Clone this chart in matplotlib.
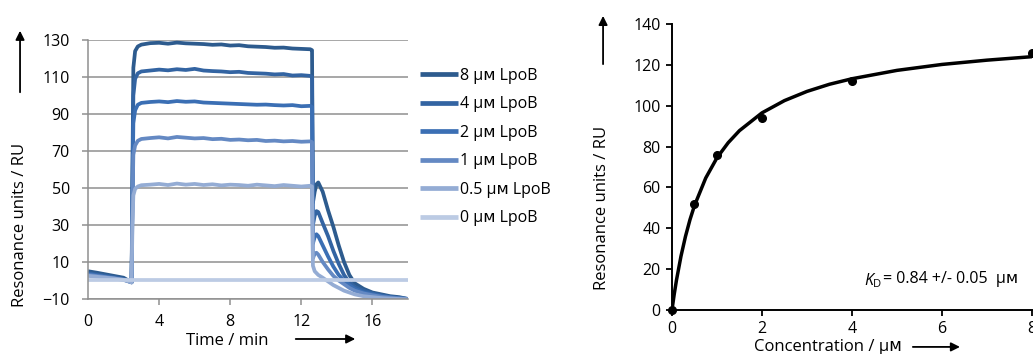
import numpy as np
import matplotlib
matplotlib.use("Agg")
import matplotlib.pyplot as plt

plt.rcParams['font.family'] = ['Open Sans', 'DejaVu Sans']
plt.rcParams['mathtext.fontset'] = 'custom'
plt.rcParams['mathtext.rm'] = 'Open Sans'
plt.rcParams['mathtext.it'] = 'Open Sans:italic'

# --- sensorgram data (time in min, response in RU) ---
t_run = [0, 0.5, 1, 1.5, 2, 2.45, 2.5, 2.55, 2.65, 2.8, 3.0,
         3.5, 4, 4.5, 5, 5.5, 6, 6.5, 7, 7.5, 8, 8.5, 9, 9.5, 10, 10.5, 11, 11.5, 12, 12.5,
         12.6, 12.65, 12.75, 12.85, 12.95, 13.2, 13.5, 13.8, 14.1, 14.4, 14.7, 15.0,
         15.5, 16, 16.5, 17, 17.5, 18]

ru_8 = [5, 4.2, 3.3, 2.4, 1.5, -1, 60, 115, 124, 126.5, 127.5,
        128.3, 128.5, 128, 128.6, 128.2, 128, 127.8, 127.4, 127.6, 127, 127.2, 126.6, 126.4, 126.2, 125.8, 125.9, 125.4, 125.2, 125,
        124.5, 42, 48, 52, 53, 48, 38, 29, 19, 10, 3, -1.5,
        -4.5, -6.5, -7.5, -8.5, -9, -10]
ru_4 = [4, 3.2, 2.5, 1.7, 0.8, -1, 50, 100, 109, 112, 113,
        113.5, 114, 113.6, 114.2, 113.8, 114.4, 113.5, 113.2, 113, 112.6, 112.8, 112.2, 112, 111.8, 111.4, 111.6, 110.8, 111, 110.6,
        110, 30, 35, 37.5, 37, 31, 24, 16, 9, 3, -1, -3.5,
        -5.5, -7, -8, -9, -9.5, -10]
ru_2 = [3.5, 2.8, 2, 1.3, 0.5, -1, 45, 85, 92, 95, 96,
        96.5, 96.8, 96.4, 97, 96.6, 96.8, 96.2, 96, 95.8, 95.6, 95.4, 95.2, 95, 95.1, 94.8, 94.6, 94.8, 94.2, 94.4,
        93.8, 20, 23.5, 25, 24, 19, 13, 7.5, 3, 0, -2.5, -4.5,
        -6.5, -7.5, -8.5, -9, -9.5, -10]
ru_1 = [3, 2.4, 1.8, 1.1, 0.4, -1, 40, 68, 73, 75.5, 76.5,
        77, 77.4, 76.8, 77.6, 77.2, 76.8, 77, 76.4, 76.6, 76, 76.2, 75.8, 76, 75.4, 75.6, 75.2, 75.4, 75, 75.2,
        74.8, 12, 14.5, 15, 14, 10, 6, 2.5, 0, -2, -4, -5.5,
        -7, -8, -8.8, -9.3, -9.7, -10]
ru_05 = [2.5, 2, 1.5, 1, 0.3, -1, 30, 46, 49.5, 50.8, 51.5,
         51.8, 52.2, 51.6, 52.4, 51.8, 52.2, 51.6, 52, 51.4, 51.8, 51.6, 51.2, 51.8, 51.4, 51, 51.6, 51.2, 50.8, 51.2,
         50.8, 8, 5, 4, 3, 1.5, -0.5, -2.5, -4, -5.5, -6.5, -7.5,
         -8.5, -9, -9.5, -9.8, -10, -10.3]
t_zero = [0, 18]
ru_0 = [0.2, 0.2]

series = [(t_run, ru_8, '8 µᴍ LpoB', '#2d5b8e'),
          (t_run, ru_4, '4 µᴍ LpoB', '#3364a2'),
          (t_run, ru_2, '2 µᴍ LpoB', '#3b6fb4'),
          (t_run, ru_1, '1 µᴍ LpoB', '#6489c3'),
          (t_run, ru_05, '0.5 µᴍ LpoB', '#94acd4'),
          (t_zero, ru_0, '0 µᴍ LpoB', '#bccbe4')]

# --- steady-state binding data ---
conc = [0, 0.5, 1, 2, 4, 8]
ru_eq = [0, 52, 76, 94, 112, 126]
conc_fit = [0, 0.05, 0.1, 0.2, 0.3, 0.4, 0.5, 0.75, 1, 1.25, 1.5, 2, 2.5, 3, 3.5, 4, 5, 6, 7, 8]
ru_fit = [0, 7.7, 14.6, 26.3, 36, 44.2, 51.1, 64.6, 74.5, 81.9, 87.8, 96.5, 102.5, 107,
          110.5, 113.2, 117.3, 120.2, 122.3, 124]

fig = plt.figure(figsize=(10.33, 3.54), dpi=100)
grey = '#8f8f8f'

# ---------- left: sensorgram ----------
ax1 = fig.add_axes([0.0852, 0.1554, 0.3098, 0.7316])
for t, ru, lab, col in series:
    ax1.plot(t, ru, color=col, lw=2.7, label=lab, solid_capstyle='butt')
ax1.set_xlim(0, 18)
ax1.set_ylim(-10, 130)
ax1.set_yticks([-10, 10, 30, 50, 70, 90, 110, 130])
ax1.set_xticks([0, 4, 8, 12, 16])
ax1.yaxis.grid(True, color=grey, lw=1.1)
ax1.set_axisbelow(True)
for s in ['top', 'right']:
    ax1.spines[s].set_visible(False)
for s in ['left', 'bottom']:
    ax1.spines[s].set_color(grey)
    ax1.spines[s].set_linewidth(1.1)
ax1.tick_params(axis='y', length=4, color=grey, width=1.1, pad=9, labelsize=11.5)
ax1.tick_params(axis='x', length=0, pad=11, labelsize=11.5)
sec = ax1.secondary_xaxis(0)
sec.set_xticks([4, 8, 12, 16])
sec.tick_params(length=4, color=grey, width=1.1, labelbottom=False)
sec.spines['bottom'].set_visible(False)

leg = ax1.legend(loc='upper left', bbox_to_anchor=(0.4066, 0.808), bbox_transform=fig.transFigure,
                 frameon=False, fontsize=11.5, handlelength=2.4, handletextpad=0.1,
                 labelspacing=0.78, borderpad=0, borderaxespad=0)
for ln in leg.get_lines():
    ln.set_linewidth(3.4)

fig.text(0.0194, 0.3644, 'Resonance units / RU', rotation=90, ha='center', va='center', fontsize=12)
fig.text(0.2202, 0.037, 'Time / min', ha='center', va='center', fontsize=12)
ax1.annotate('', xy=(0.0194, 0.921), xytext=(0.0194, 0.7316), xycoords='figure fraction',
             arrowprops=dict(arrowstyle='-|>', color='k', lw=1.3, mutation_scale=13))
ax1.annotate('', xy=(0.3466, 0.0424), xytext=(0.2836, 0.0424), xycoords='figure fraction',
             arrowprops=dict(arrowstyle='-|>', color='k', lw=1.3, mutation_scale=13))

# ---------- right: binding isotherm ----------
ax2 = fig.add_axes([0.6505, 0.1243, 0.3485, 0.8079])
ax2.plot(conc_fit, ru_fit, color='k', lw=2.5)
ax2.plot(conc, ru_eq, 'o', color='k', ms=5.5, clip_on=False, zorder=5)
ax2.set_xlim(0, 8)
ax2.set_ylim(0, 140)
ax2.set_xticks([0, 2, 4, 6, 8])
ax2.set_yticks([0, 20, 40, 60, 80, 100, 120, 140])
for s in ['top', 'right']:
    ax2.spines[s].set_visible(False)
for s in ['left', 'bottom']:
    ax2.spines[s].set_linewidth(1.4)
ax2.tick_params(axis='y', length=4, width=1.3, pad=4, labelsize=11.5)
ax2.tick_params(axis='x', length=4, width=1.3, pad=4, labelsize=11.5)

kd = ax2.text(4.26, 14.2, r'$K_\mathrm{D}$', ha='left', va='center', fontsize=11.5)
ax2.annotate('= 0.84 +/- 0.05  µᴍ', xy=(1.0, 0.62), xycoords=kd, xytext=(0.5, 0),
             textcoords='offset points', ha='left', va='center', fontsize=11.5)

fig.text(0.583, 0.414, 'Resonance units / RU', rotation=90, ha='center', va='center', fontsize=12)
fig.text(0.8015, 0.042, 'Concentration / µᴍ', ha='center', va='top', fontsize=12)
ax2.annotate('', xy=(0.5838, 0.963), xytext=(0.5838, 0.811), xycoords='figure fraction',
             arrowprops=dict(arrowstyle='-|>', color='k', lw=1.3, mutation_scale=13))
ax2.annotate('', xy=(0.932, 0.02), xytext=(0.881, 0.02), xycoords='figure fraction',
             arrowprops=dict(arrowstyle='-|>', color='k', lw=1.3, mutation_scale=13))

fig.savefig('out.png', dpi=100)
